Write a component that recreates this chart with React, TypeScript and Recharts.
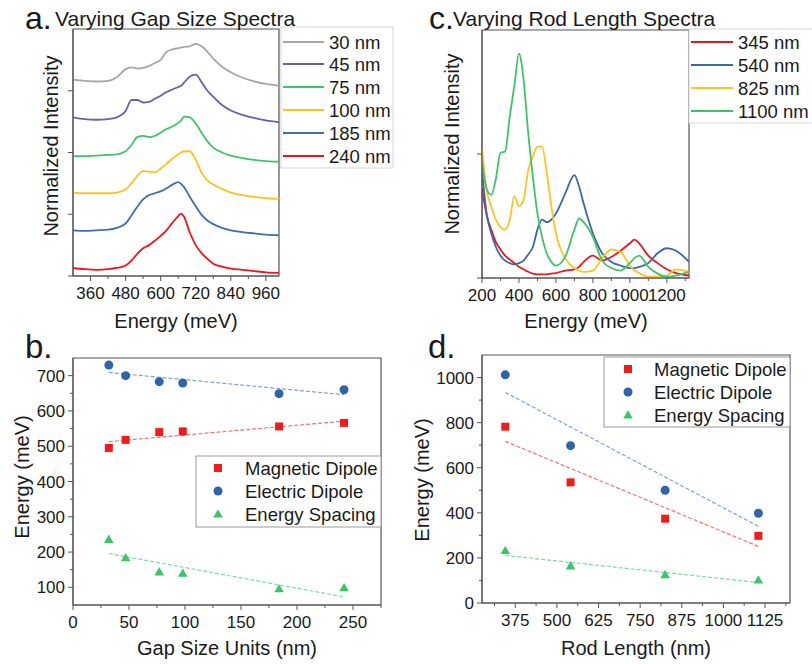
import React from "react";
import { LineChart, Line, XAxis, YAxis, ScatterChart, Scatter, ReferenceArea } from "recharts";

const FONT = "'Liberation Sans', Arial, Helvetica, sans-serif";
const INK = "#1a1a1a";
const AXIS = "#555";
const TICK_LEN = 5;
const X_GAP = 6;
const Y_GAP = 3;

// ---- a. varying gap size spectra ----
const gapEnergy = [300, 340, 380, 420, 450, 480, 500, 520, 540, 560, 580, 600, 620, 640, 660, 670, 680, 700, 720, 740, 760, 780, 810, 840, 880, 920, 960, 1005];
const gap30 = [3.18, 3.16, 3.15, 3.16, 3.22, 3.35, 3.38, 3.36, 3.37, 3.4, 3.45, 3.5, 3.63, 3.67, 3.69, 3.7, 3.71, 3.72, 3.76, 3.72, 3.63, 3.52, 3.39, 3.3, 3.21, 3.15, 3.11, 3.08];
const gap45 = [2.57, 2.54, 2.53, 2.54, 2.57, 2.67, 2.85, 2.85, 2.81, 2.82, 2.87, 2.92, 2.98, 3.02, 3.06, 3.08, 3.13, 3.23, 3.26, 3.14, 3.0, 2.9, 2.77, 2.68, 2.61, 2.56, 2.52, 2.49];
const gap75 = [1.94, 1.94, 1.95, 1.96, 1.97, 2.02, 2.12, 2.25, 2.27, 2.25, 2.27, 2.32, 2.38, 2.42, 2.48, 2.52, 2.58, 2.57, 2.47, 2.32, 2.18, 2.08, 2.0, 1.95, 1.91, 1.88, 1.86, 1.85];
const gap100 = [1.35, 1.34, 1.34, 1.34, 1.35, 1.4, 1.5, 1.62, 1.7, 1.69, 1.68, 1.74, 1.82, 1.9, 1.97, 2.0, 2.02, 2.02, 1.88, 1.67, 1.55, 1.48, 1.41, 1.35, 1.31, 1.28, 1.26, 1.25];
const gap185 = [0.74, 0.73, 0.74, 0.75, 0.78, 0.85, 0.98, 1.12, 1.24, 1.31, 1.34, 1.37, 1.42, 1.48, 1.52, 1.49, 1.44, 1.28, 1.13, 0.99, 0.9, 0.84, 0.78, 0.74, 0.71, 0.69, 0.67, 0.66];
const gap240 = [0.13, 0.11, 0.1, 0.11, 0.13, 0.17, 0.25, 0.36, 0.45, 0.5, 0.57, 0.65, 0.74, 0.86, 0.97, 1.01, 0.96, 0.7, 0.5, 0.37, 0.28, 0.2, 0.15, 0.12, 0.1, 0.08, 0.06, 0.05];
const gapNames = ["30 nm", "45 nm", "75 nm", "100 nm", "185 nm", "240 nm"];
const gapColors = ["#a6a6a6", "#6762a6", "#3fc46c", "#ffc21c", "#3d6fb0", "#f0141e"];
const gapSeries = [gap30, gap45, gap75, gap100, gap185, gap240];

// ---- c. varying rod length spectra ----
const rodEnergy = [200, 225, 250, 275, 300, 325, 350, 375, 400, 425, 450, 475, 500, 525, 550, 575, 600, 650, 700, 725, 750, 800, 850, 900, 950, 1000, 1025, 1050, 1100, 1150, 1200, 1250, 1320];
const rod345 = [0.72, 0.51, 0.39, 0.29, 0.23, 0.18, 0.15, 0.12, 0.09, 0.07, 0.05, 0.035, 0.03, 0.03, 0.03, 0.035, 0.04, 0.06, 0.07, 0.09, 0.13, 0.18, 0.14, 0.17, 0.22, 0.28, 0.31, 0.28, 0.18, 0.12, 0.07, 0.04, 0.02];
const rod540 = [0.87, 0.52, 0.36, 0.25, 0.18, 0.14, 0.12, 0.11, 0.12, 0.14, 0.19, 0.25, 0.39, 0.47, 0.45, 0.47, 0.52, 0.68, 0.83, 0.74, 0.6, 0.36, 0.2, 0.13, 0.1, 0.08, 0.08, 0.09, 0.12, 0.2, 0.24, 0.22, 0.13];
const rod825 = [1.05, 0.71, 0.58, 0.47, 0.41, 0.39, 0.47, 0.66, 0.58, 0.63, 0.87, 0.98, 1.06, 1.06, 0.85, 0.58, 0.36, 0.16, 0.08, 0.06, 0.05, 0.06, 0.16, 0.23, 0.21, 0.1, 0.06, 0.04, 0.01, 0.01, 0.02, 0.07, 0.05];
const rod1100 = [0.93, 0.72, 0.67, 0.8, 1.01, 1.02, 1.3, 1.55, 1.81, 1.6, 1.17, 0.82, 0.52, 0.33, 0.2, 0.13, 0.1, 0.17, 0.39, 0.48, 0.45, 0.33, 0.14, 0.08, 0.06, 0.12, 0.16, 0.18, 0.09, 0.035, 0.01, 0.02, 0.05];
const rodNames = ["345 nm", "540 nm", "825 nm", "1100 nm"];
const rodColors = ["#f0141e", "#3b68a9", "#ffc21f", "#3dc468"];
const rodSeries = [rod345, rod540, rod825, rod1100];

// ---- b. mode energies vs gap size ----
const gapSize = [32, 47, 77, 98, 184, 242];
const gapMagnetic = [495, 518, 540, 542, 556, 566];
const gapElectric = [730, 700, 683, 679, 649, 660];
const gapSpacing = [236, 184, 144, 140, 96, 99];
const gapFitX = [32, 242];
const gapFitMagnetic = [513, 571];
const gapFitElectric = [709, 646];
const gapFitSpacing = [196, 73];

// ---- d. mode energies vs rod length ----
const rodLength = [345, 541, 825, 1105];
const rodMagnetic = [782, 535, 374, 298];
const rodElectric = [1012, 698, 500, 398];
const rodSpacing = [233, 165, 126, 102];
const rodFitX = [345, 1105];
const rodFitMagnetic = [717, 251];
const rodFitElectric = [934, 340];
const rodFitSpacing = [211, 91];

const modeNames = ["Magnetic Dipole", "Electric Dipole", "Energy Spacing"];
const modeKinds = ["square", "circle", "triangle"];
const modeColors = ["#f51a1a", "#2f64a8", "#3cc46a"];
const fitColors = ["#f07474", "#7fa3d4", "#79dca0"];

const toRows = (xs: number[], ...ys: number[][]) =>
  xs.map((x, i) => {
    const row: any = { e: x };
    ys.forEach((s, k) => (row["s" + k] = s[i]));
    return row;
  });
const toPts = (xs: number[], ys: number[]) => xs.map((x, i) => ({ x, y: ys[i] }));

const gapRows = toRows(gapEnergy, ...gapSeries);
const rodRows = toRows(rodEnergy, ...rodSeries);

function BottomTick(props: any) {
  const { x, y, payload, majors } = props;
  const v = payload.value;
  const major = majors.includes(v);
  const ay = y - X_GAP - TICK_LEN;
  return (
    <g>
      <line x1={x} x2={x} y1={ay} y2={ay + (major ? TICK_LEN : 3)} stroke={AXIS} />
      {major && (
        <text x={x} y={y} dy="0.71em" textAnchor="middle" fontSize={17} fontFamily={FONT} fill={INK}>
          {v}
        </text>
      )}
    </g>
  );
}

function LeftTick(props: any) {
  const { x, y, payload, majors, labels } = props;
  const v = payload.value;
  const major = majors.includes(v);
  const ax = x + Y_GAP + TICK_LEN;
  return (
    <g>
      <line x1={ax} x2={ax - (major ? TICK_LEN : 3)} y1={y} y2={y} stroke={AXIS} />
      {major && labels && (
        <text x={x} y={y} dy="0.36em" textAnchor="end" fontSize={17} fontFamily={FONT} fill={INK}>
          {v}
        </text>
      )}
    </g>
  );
}

function Marker({ cx, cy, kind, color }: any) {
  if (kind === "square") return <rect x={cx - 4} y={cy - 4} width={8} height={8} fill={color} />;
  if (kind === "circle") return <circle cx={cx} cy={cy} r={4.5} fill={color} />;
  return <polygon points={`${cx},${cy - 4.8} ${cx + 4.8},${cy + 3.6} ${cx - 4.8},${cy + 3.6}`} fill={color} />;
}

function axisProps(majors: number[], minors: number[], left: boolean, labels = true) {
  return {
    ticks: [...majors, ...minors],
    interval: 0 as const,
    tickLine: false,
    tickSize: TICK_LEN,
    tickMargin: left ? Y_GAP : X_GAP,
    stroke: AXIS,
    allowDataOverflow: true,
    tick: (p: any) => (left ? <LeftTick {...p} majors={majors} labels={labels} /> : <BottomTick {...p} majors={majors} />),
  };
}

function SpectraChart({ rows, series, colors, xDom, yDom, xMajor, xMinor, yMajor, margin, width, height }: any) {
  return (
    <LineChart width={width} height={height} data={rows} margin={margin}>
      <XAxis dataKey="e" type="number" domain={xDom} height={30} {...axisProps(xMajor, xMinor, false)} />
      <YAxis type="number" domain={yDom} width={10} {...axisProps(yMajor, [], true, false)} />
      <ReferenceArea x1={xDom[0]} x2={xDom[1]} y1={yDom[0]} y2={yDom[1]} fill="none" stroke={AXIS} strokeWidth={1.2} ifOverflow="visible" />
      {series.map((_: any, k: number) => (
        <Line key={k} dataKey={"s" + k} type="monotone" stroke={colors[k]} strokeWidth={1.8} dot={false} isAnimationActive={false} />
      ))}
    </LineChart>
  );
}

function ModeChart({ xs, ys, fitX, fits, xDom, yDom, xMajor, xMinor, yMajor, yMinor, margin, width, height }: any) {
  return (
    <ScatterChart width={width} height={height} margin={margin}>
      <XAxis dataKey="x" type="number" domain={xDom} height={30} {...axisProps(xMajor, xMinor, false)} />
      <YAxis dataKey="y" type="number" domain={yDom} width={60} {...axisProps(yMajor, yMinor, true)} />
      <ReferenceArea x1={xDom[0]} x2={xDom[1]} y1={yDom[0]} y2={yDom[1]} fill="none" stroke={AXIS} strokeWidth={1.2} ifOverflow="visible" />
      {fits.map((f: number[], k: number) => (
        <Scatter
          key={"fit" + k}
          data={toPts(fitX, f)}
          line={{ stroke: fitColors[k], strokeWidth: 1.2, strokeDasharray: "4 2" }}
          lineType="joint"
          shape={() => <g />}
          legendType="none"
          isAnimationActive={false}
        />
      ))}
      {ys.map((s: number[], k: number) => (
        <Scatter
          key={"pts" + k}
          name={modeNames[k]}
          data={toPts(xs, s)}
          shape={(p: any) => <Marker cx={p.cx} cy={p.cy} kind={modeKinds[k]} color={modeColors[k]} />}
          isAnimationActive={false}
        />
      ))}
    </ScatterChart>
  );
}

function LineLegend({ names, colors, x, y, w, h, rows, lineX, textX }: any) {
  return (
    <g>
      <rect x={x} y={y} width={w} height={h} fill="#fff" stroke="#d6d6d6" />
      {names.map((n: string, i: number) => (
        <g key={n}>
          <line x1={lineX[0]} x2={lineX[1]} y1={rows[i]} y2={rows[i]} stroke={colors[i]} strokeWidth={2.2} />
          <text x={textX} y={rows[i]} dy="0.36em" fontSize={18.5} fontFamily={FONT} fill={INK}>
            {n}
          </text>
        </g>
      ))}
    </g>
  );
}

function ModeLegend({ x, y, w, h, rows, markX, textX }: any) {
  return (
    <g>
      <rect x={x} y={y} width={w} height={h} fill="#fff" stroke="#9a9a9a" />
      {modeNames.map((n, i) => (
        <g key={n}>
          <Marker cx={markX} cy={rows[i]} kind={modeKinds[i]} color={modeColors[i]} />
          <text x={textX} y={rows[i]} dy="0.36em" fontSize={18.5} fontFamily={FONT} fill={INK}>
            {n}
          </text>
        </g>
      ))}
    </g>
  );
}

const abs = (left: number, top: number): React.CSSProperties => ({ position: "absolute", left, top });

export default function App() {
  return (
    <div style={{ position: "absolute", left: 0, top: 0, width: 812, height: 664, background: "#fff", fontFamily: FONT, overflow: "hidden" }}>
      <div style={abs(0, 0)}>
        <SpectraChart
          rows={gapRows}
          series={gapSeries}
          colors={gapColors}
          xDom={[300, 1005]}
          yDom={[0, 4]}
          xMajor={[360, 480, 600, 720, 840, 960]}
          xMinor={[420, 540, 660, 780, 900]}
          yMajor={[0, 1, 2, 3]}
          width={300}
          height={330}
          margin={{ top: 29, right: 21, bottom: 24, left: 63 }}
        />
      </div>
      <div style={abs(400, 0)}>
        <SpectraChart
          rows={rodRows}
          series={rodSeries}
          colors={rodColors}
          xDom={[200, 1320]}
          yDom={[0, 2]}
          xMajor={[200, 400, 600, 800, 1000, 1200]}
          xMinor={[300, 500, 700, 900, 1100, 1300]}
          yMajor={[0, 1]}
          width={300}
          height={330}
          margin={{ top: 30, right: 11, bottom: 22, left: 72 }}
        />
      </div>
      <div style={abs(0, 330)}>
        <ModeChart
          xs={gapSize}
          ys={[gapMagnetic, gapElectric, gapSpacing]}
          fitX={gapFitX}
          fits={[gapFitMagnetic, gapFitElectric, gapFitSpacing]}
          xDom={[0, 275]}
          yDom={[50, 750]}
          xMajor={[0, 50, 100, 150, 200, 250]}
          xMinor={[25, 75, 125, 175, 225, 275]}
          yMajor={[100, 200, 300, 400, 500, 600, 700]}
          yMinor={[150, 250, 350, 450, 550, 650]}
          width={400}
          height={334}
          margin={{ top: 28, right: 19, bottom: 29, left: 13 }}
        />
      </div>
      <div style={abs(400, 330)}>
        <ModeChart
          xs={rodLength}
          ys={[rodMagnetic, rodElectric, rodSpacing]}
          fitX={rodFitX}
          fits={[rodFitMagnetic, rodFitElectric, rodFitSpacing]}
          xDom={[275, 1200]}
          yDom={[0, 1100]}
          xMajor={[375, 500, 625, 750, 875, 1000, 1125]}
          xMinor={[312.5, 437.5, 562.5, 687.5, 812.5, 937.5, 1062.5, 1187.5]}
          yMajor={[0, 200, 400, 600, 800, 1000]}
          yMinor={[100, 300, 500, 700, 900]}
          width={412}
          height={334}
          margin={{ top: 25, right: 22, bottom: 31, left: 22 }}
        />
      </div>

      <svg width={812} height={664} style={{ position: "absolute", left: 0, top: 0, pointerEvents: "none" }}>
        <g fontFamily={FONT} fill={INK}>
          <text x={25} y={29} fontSize={32}>a.</text>
          <text x={55} y={26} fontSize={21}>Varying Gap Size Spectra</text>
          <text x={429} y={29} fontSize={32}>c.</text>
          <text x={453} y={26} fontSize={21}>Varying Rod Length Spectra</text>
          <text x={25} y={358} fontSize={33}>b.</text>
          <text x={428} y={358} fontSize={33}>d.</text>
          <text transform="translate(58,146) rotate(-90)" textAnchor="middle" fontSize={20}>Normalized Intensity</text>
          <text transform="translate(459,144) rotate(-90)" textAnchor="middle" fontSize={20}>Normalized Intensity</text>
          <text x={176} y={328} textAnchor="middle" fontSize={20}>Energy (meV)</text>
          <text x={586} y={328} textAnchor="middle" fontSize={20}>Energy (meV)</text>
          <text transform="translate(29,477) rotate(-90)" textAnchor="middle" fontSize={20}>Energy (meV)</text>
          <text transform="translate(429,480) rotate(-90)" textAnchor="middle" fontSize={20}>Energy (meV)</text>
          <text x={227} y={655} textAnchor="middle" fontSize={20}>Gap Size Units (nm)</text>
          <text x={636} y={655} textAnchor="middle" fontSize={20}>Rod Length (nm)</text>
        </g>
        <LineLegend names={gapNames} colors={gapColors} x={281} y={27} w={112} h={141} rows={[42, 64, 87, 110, 133, 156]} lineX={[283, 324]} textX={329} />
        <LineLegend names={rodNames} colors={rodColors} x={689} y={29} w={130} h={94} rows={[42, 65, 88, 111]} lineX={[691, 733]} textX={738} />
        <ModeLegend x={196} y={456} w={185} h={71} rows={[468, 491, 514]} markX={218} textX={245} />
        <ModeLegend x={604} y={357} w={186} h={70} rows={[369, 392, 415]} markX={628} textX={654} />
      </svg>
    </div>
  );
}
